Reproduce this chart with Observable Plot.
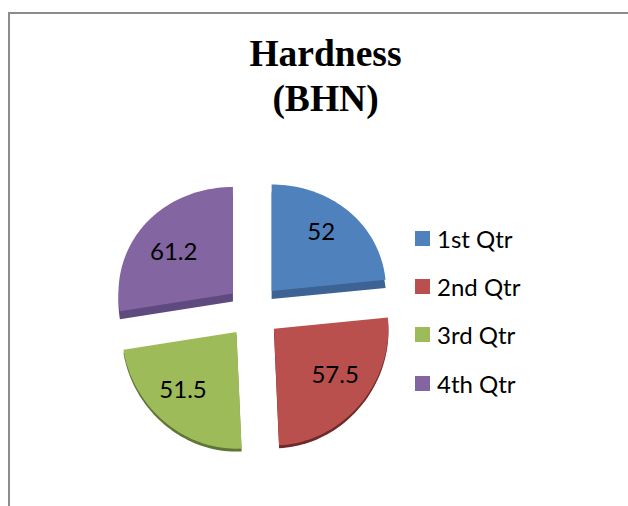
<!DOCTYPE html>
<html>
<head>
<meta charset="utf-8">
<script src="https://cdn.jsdelivr.net/npm/d3@7"></script>
<script src="https://cdn.jsdelivr.net/npm/@observablehq/plot@0.6"></script>
<style>
html,body{margin:0;padding:0;background:#fff;width:628px;height:506px;overflow:hidden}
#frame{position:absolute;left:8px;top:12px;right:-4px;bottom:-4px;border:2px solid #8c8c8c;box-sizing:border-box}
#title{position:absolute;left:0;width:651px;top:31px;text-align:center;font:bold 37.5px/45px "Liberation Serif",serif;color:#000}
#chart{position:absolute;left:0;top:0}
.leg{position:absolute;left:415px;font:24px/30px Lato,sans-serif;color:#000;white-space:nowrap}
.leg i{position:absolute;left:0;top:7px;width:15px;height:15px}
.leg span{position:absolute;left:22px;top:0}
</style>
</head>
<body>
<div id="frame"></div>
<div id="chart"></div>
<div id="title">Hardness<br>(BHN)</div>
<div id="legend"></div>
<script>
const quarters = ["1st Qtr", "2nd Qtr", "3rd Qtr", "4th Qtr"];
const hardness = [52, 57.5, 51.5, 61.2];
const colors = ["#4f81bd", "#b9504d", "#9dbb59", "#8365a2"];
const sideColors = ["#3c6393", "#6e2a28", "#5f7535", "#5f4a80"];
const faceDepth = [0.07, 0.025, 0.025, 0.07];
const labelShiftX = [-0.01, 0.035, -0.05, -0.015];
const labelShiftY = [-0.045, -0.025, 0, 0.05];
const legendTops = [224, 272, 320, 369];

const W = 628, H = 506, unit = 114.5, cx = 253, cy = 310.5, explode = 27 / unit;
// slight perspective from the tilted view
const tilt = ([a, r]) => {
  const x = r * Math.sin(a), y = -r * Math.cos(a);
  const d = 1 - 0.046 * y;
  return [x, 0.973 * y / d];
};
const arcs = d3.pie().sort(null)(hardness);
const faces = [], sides = [], labels = [];
arcs.forEach((s, i) => {
  const mid = (s.startAngle + s.endAngle) / 2;
  const ox = explode * Math.sin(mid), oy = -explode * Math.cos(mid);
  const ring = [[0, 0]];
  const n = 48;
  for (let k = 0; k <= n; ++k) ring.push(tilt([s.startAngle + (s.endAngle - s.startAngle) * k / n, 1]));
  ring.forEach(([x, y]) => {
    faces.push({q: quarters[i], x: x + ox, y: y + oy});
    sides.push({q: quarters[i], x: x + ox, y: y + oy + faceDepth[i], c: sideColors[i]});
  });
  const [lx, ly] = tilt([mid, 0.66]);
  labels.push({v: hardness[i], x: lx + ox + labelShiftX[i], y: ly + oy + labelShiftY[i]});
});

const chart = Plot.plot({
  width: W, height: H, margin: 0,
  x: {domain: [-cx / unit, (W - cx) / unit], range: [0, W], axis: null},
  y: {domain: [-cy / unit, (H - cy) / unit], range: [0, H], axis: null},
  color: {domain: quarters, range: colors},
  style: {background: "transparent"},
  marks: [
    Plot.line(sides, {x: "x", y: "y", z: "q", fill: "c", stroke: "none", curve: "linear-closed"}),
    Plot.line(faces, {x: "x", y: "y", z: "q", fill: "q", stroke: "none", curve: "linear-closed"}),
    Plot.text(labels, {x: "x", y: "y", text: d => String(d.v), fontSize: 24, fontFamily: "Lato", fill: "#000"})
  ]
});
document.getElementById("chart").append(chart);

const legend = document.getElementById("legend");
quarters.forEach((q, i) => {
  const row = document.createElement("div");
  row.className = "leg";
  row.style.top = legendTops[i] + "px";
  row.innerHTML = `<i style="background:${d3.color(colors[i]).formatHex()}"></i><span>${q}</span>`;
  legend.append(row);
});
</script>
</body>
</html>
